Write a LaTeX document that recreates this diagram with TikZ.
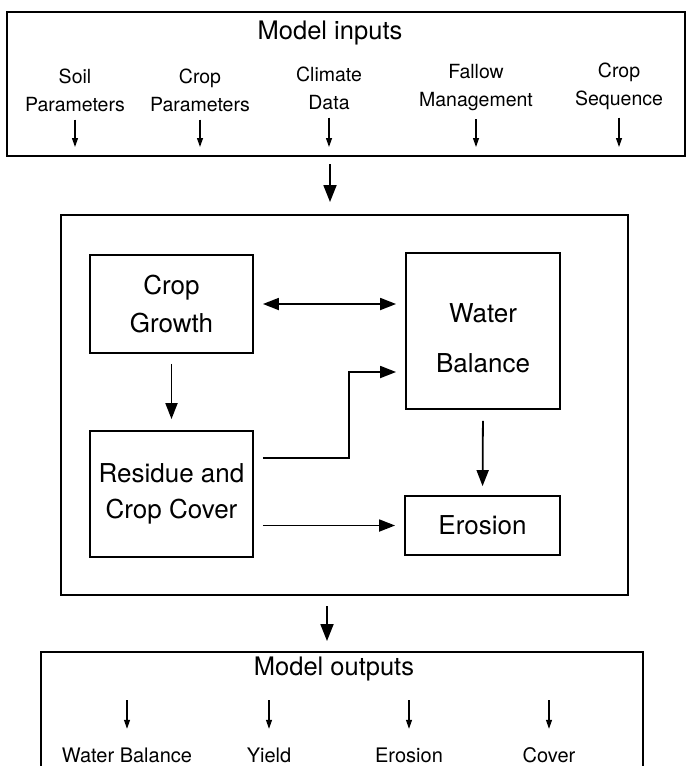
\documentclass[tikz,border=0pt]{standalone}
\usepackage{fontspec}
\setmainfont{TeX Gyre Heros}
\usetikzlibrary{arrows.meta}

\begin{document}
\begin{tikzpicture}[x=1pt,y=-1pt
,framebox/.style={draw=black,line width=2pt,inner sep=0pt}
,blockbox/.style={draw=black,line width=1.8pt,inner sep=0pt,align=center,font=\fontsize{26}{38}\selectfont}
,titletext/.style={inner sep=2pt,text height=19pt,text depth=5pt,font=\fontsize{25.5}{30}\selectfont}
,labeltext/.style={inner sep=2pt,align=center,font=\fontsize{19.5}{28}\selectfont}
,outtext/.style={inner sep=2pt,text height=14pt,text depth=4pt,font=\fontsize{20}{24}\selectfont}
,bigarrow/.style={line width=1.8pt,-{Triangle[length=17pt,width=13pt]}}
,midarrow/.style={line width=1.8pt,-{Triangle[length=16pt,width=12pt]}}
,duplarrow/.style={line width=1.8pt,{Triangle[length=16pt,width=12pt]}-{Triangle[length=16pt,width=12pt]}}
,smallarrow/.style={line width=1.2pt,-{Triangle[length=9pt,width=6pt]}}
]
\clip (0,0) rectangle (686,766);
% model inputs
\node[framebox,minimum width=678pt,minimum height=144pt] (inputs) at (346,84) {};
\node[titletext] (intitle) at (330,32) {Model inputs};
\node[labeltext] (soil) at (75,90) {Soil\\Parameters};
\node[labeltext] (cropparam) at (200,90) {Crop\\Parameters};
\node[labeltext] (climate) at (329,88) {Climate\\Data};
\node[labeltext] (fallow) at (476,88) {Fallow\\Management};
\node[labeltext] (cropseq) at (619,86) {Crop\\Sequence};
\foreach \lbl in {soil,cropparam,climate,fallow,cropseq}
  \draw[smallarrow,shorten <=6pt,shorten >=10pt] (\lbl.south) -- (\lbl.south |- inputs.south);
% model
\coordinate (inmid) at (330,0);
\node[framebox,minimum width=567pt,minimum height=380pt] (model) at (344.5,405) {};
\draw[bigarrow,shorten <=7pt,shorten >=12pt] (inputs.south -| inmid) -- (model.north -| inmid);
\node[blockbox,minimum width=163pt,minimum height=98pt] (growth) at (171.5,304) {Crop\\Growth};
\node[blockbox,minimum width=154pt,minimum height=156pt,font=\fontsize{26}{50}\selectfont] (water) at (483,331) {\rule{0pt}{33pt}Water\\Balance};
\node[blockbox,minimum width=163pt,minimum height=126pt,font=\fontsize{26}{36}\selectfont] (residue) at (171.5,494) {Residue and\\Crop Cover};
\node[blockbox,minimum width=155pt,minimum height=59pt] (erosion) at (482.5,525.5) {Erosion};
\draw[duplarrow,shorten <=9pt,shorten >=9pt] (growth.east) -- (growth.east -| water.west);
\draw[midarrow,shorten <=10pt,shorten >=11pt] (growth.south) -- (residue.north);
\draw[midarrow,shorten <=9pt,shorten >=9pt] ([yshift=-28pt]residue.north east) -- ++(95,0) |- ([yshift=-41pt]water.west);
\draw[midarrow,shorten <=9pt,shorten >=9pt] (residue.east |- erosion.west) -- (erosion.west);
\draw[midarrow,shorten <=11pt,shorten >=9pt] (water.south) -- (erosion.north);
% model outputs
\coordinate (outmid) at (327,0);
\node[framebox,minimum width=602pt,minimum height=140pt] (outputs) at (342,722) {};
\draw[bigarrow,shorten <=10pt,shorten >=10pt] (model.south -| outmid) -- (outputs.north -| outmid);
\node[titletext] (outtitle) at (334,668) {Model outputs};
\node[outtext] (wbout) at (127,757) {Water Balance};
\node[outtext] (yieldout) at (269,757) {Yield};
\node[outtext] (erosionout) at (409,757) {Erosion};
\node[outtext] (coverout) at (549,757) {Cover};
\foreach \lbl in {wbout,yieldout,erosionout,coverout}
  \draw[smallarrow,shorten <=18pt,shorten >=17pt] (\lbl.north |- outtitle.south) -- (\lbl.north);
\end{tikzpicture}
\end{document}
